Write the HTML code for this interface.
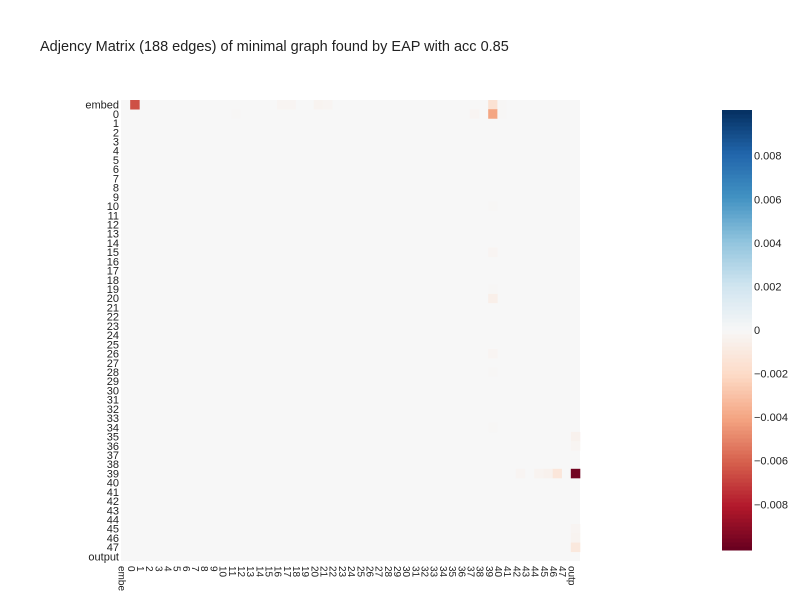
<!DOCTYPE html>
<html><head><meta charset="utf-8"><style>
body{margin:0;background:#fff;font-family:"Liberation Sans",sans-serif}
svg text{font-family:"Liberation Sans",sans-serif}
</style></head><body>
<svg id="chart" width="800" height="600" viewBox="0 0 800 600" xmlns="http://www.w3.org/2000/svg">
<rect width="800" height="600" fill="#fff"/>
<text x="40" y="51" font-size="14.5" fill="#222">Adjency Matrix (188 edges) of minimal graph found by EAP with acc 0.85</text>
<g id="cells"></g>
<g id="ylabels"></g>
<g id="xlabels"></g>
<g id="colorbar"></g>
</svg>
<script>
const labels = ["embed"].concat(Array.from({length:48},(_, i)=>String(i))).concat(["output"]);
const cellRows = ["embed","embed","embed","embed","embed","embed","embed","0","0","0","0","39","39","39","39","39","35","36","45","46","47","15","20","26","34","10","28","19"];
const cellCols = ["0","16","17","20","21","39","40","39","11","40","37","output","46","45","44","42","output","output","output","output","output","39","39","39","39","39","39","39"];
const cellValues = [-0.0065,-0.0002,-0.0002,-0.0003,-0.0002,-0.0015,-0.0001,-0.004,-0.0001,-0.0001,-0.0002,-0.0098,-0.0012,-0.0004,-0.0003,-0.0002,-0.0004,-0.0002,-0.0002,-0.0003,-0.0011,-0.0002,-0.0006,-0.0002,-0.0001,-0.0001,-0.0001,-0.0001];
const cbTicks = [0.008,0.006,0.004,0.002,0,-0.002,-0.004,-0.006,-0.008];
const zmin=-0.0101, zmax=0.0101;
const stops=[[103,0,31],[178,24,43],[214,96,77],[244,165,130],[253,219,199],[247,247,247],[209,229,240],[146,197,222],[67,147,195],[33,102,172],[5,48,97]];
function color(v){let t=(v-zmin)/(zmax-zmin);t=Math.max(0,Math.min(1,t))*(stops.length-1);const i=Math.min(Math.floor(t),stops.length-2),f=t-i;const a=stops[i],b=stops[i+1];return `rgb(${a.map((c,k)=>Math.round(c+(b[k]-c)*f)).join(',')})`;}
const X0=121,Y0=100,CW=9.18,RH=9.22,N=labels.length;
const xPos=l=>X0+labels.indexOf(l)*CW, yPos=l=>Y0+labels.indexOf(l)*RH;
const NS="http://www.w3.org/2000/svg";
function mk(t,a,p){const e=document.createElementNS(NS,t);for(const k in a)e.setAttribute(k,a[k]);p.appendChild(e);return e;}
const cells=document.getElementById('cells');
const bg=mk('rect',{x:X0,y:Y0,width:CW*N,height:RH*N,fill:color(0)},cells);


cellValues.forEach((v,i)=>{const r=mk('rect',{x:xPos(cellCols[i]),y:yPos(cellRows[i]),width:CW+0.3,height:RH+0.3,fill:color(v)},cells);

});
const yl=document.getElementById('ylabels'),xl=document.getElementById('xlabels');
labels.forEach((l,i)=>{const t=mk('text',{x:119,y:Y0+i*RH+RH/2+4,'text-anchor':'end','font-size':11,fill:'#222'},yl);t.textContent=l;


const cx=X0+i*CW+CW/2-7;const s=mk('text',{x:0,y:0,'font-size':10,fill:'#222',transform:`translate(${cx},566) rotate(90)`},xl);s.textContent=l.length>4?l.slice(0,4):l;

});
const cb=document.getElementById('colorbar');const CT=110,CB=550;
const cy=v=>CB-(v-zmin)/(zmax-zmin)*(CB-CT);
for(let k=0;k<110;k++){const v0=zmin+(zmax-zmin)*k/110,v1=zmin+(zmax-zmin)*(k+1)/110;mk('rect',{x:722,y:cy(v1),width:30,height:cy(v0)-cy(v1)+0.5,fill:color((v0+v1)/2)},cb);}
cbTicks.forEach(v=>{const t=mk('text',{x:754,y:cy(v)+4,'font-size':11,fill:'#222'},cb);t.textContent=v===0?'0':(v<0?'\u2212'+Math.abs(v).toFixed(3):v.toFixed(3));

});
</script>
</body></html>
